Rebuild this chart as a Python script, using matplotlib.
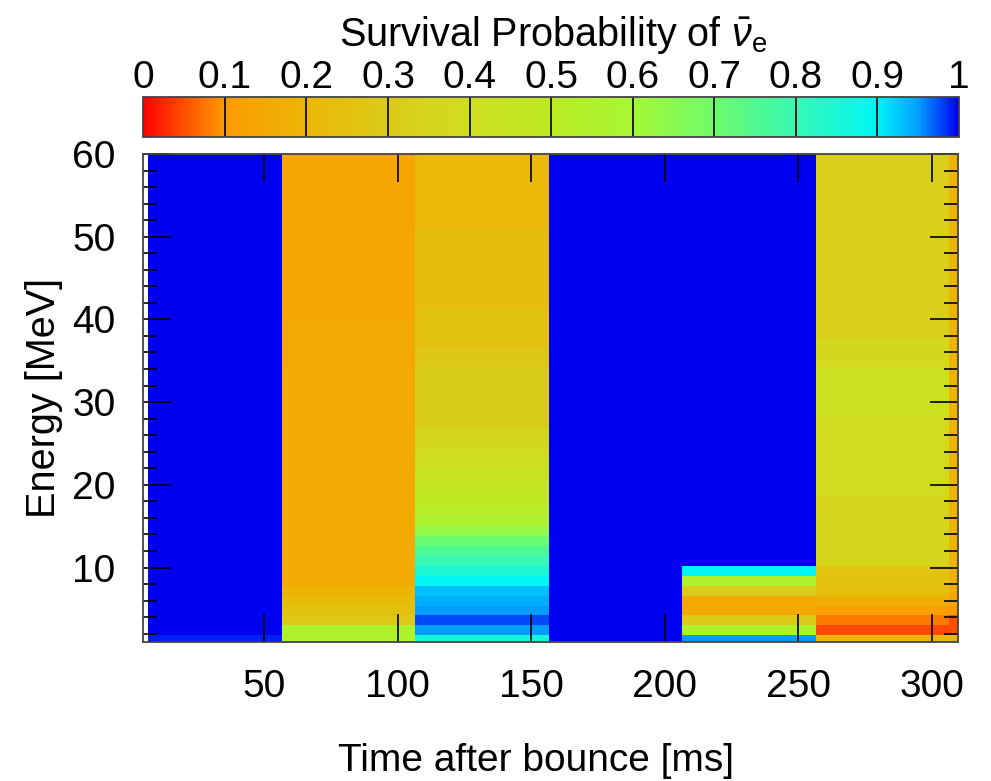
import numpy as np
import matplotlib
matplotlib.use("Agg")
import matplotlib.pyplot as plt
from matplotlib.colors import LinearSegmentedColormap
from matplotlib.ticker import MultipleLocator

# ---------------- data ----------------
# time-bin centres [ms]
time_ms = [31.6, 81.6, 131.6, 181.6, 231.6, 281.6, 331.6]
# energy-bin centres [MeV] (1.2 MeV wide bins)
energy_mev = [round(1.2 * k, 1) for k in range(1, 51)]

# survival probability of anti-nu_e, one list per time bin,
# ordered from the lowest to the highest energy bin (50 values each)
p_t1 = [0.99] + [1.0] * 49
p_t2 = [0.56, 0.56, 0.29, 0.25, 0.22, 0.19] + [0.16] * 22 + [0.15] * 5 + [0.14] * 17
p_t3 = ([0.86, 0.95, 0.975, 0.95, 0.94, 0.93, 0.90, 0.85, 0.80, 0.76, 0.71,
         0.63, 0.56, 0.52, 0.49, 0.47, 0.45, 0.43, 0.41, 0.38, 0.37, 0.35]
        + [0.31] * 6 + [0.28] * 2 + [0.25] * 4 + [0.23] * 8 + [0.21] * 8)
p_t4 = [1.0] * 50
p_t5 = [0.95, 0.56, 0.30, 0.15, 0.15, 0.31, 0.56, 0.90] + [1.0] * 42
p_t6 = ([0.20, 0.045, 0.08, 0.12, 0.17, 0.24, 0.25, 0.26]
        + [0.36] * 5 + [0.34] * 2 + [0.38] * 8 + [0.42] * 5 + [0.37] * 3 + [0.33] * 19)
p_t7 = [0.20, 0.05, 0.05, 0.10, 0.13, 0.16, 0.18, 0.18] + [0.19] * 42

cbar_ticks = [0, 0.1, 0.2, 0.3, 0.4, 0.5, 0.6, 0.7, 0.8, 0.9, 1.0]
cbar_labels = ["0", "0.1", "0.2", "0.3", "0.4", "0.5", "0.6", "0.7", "0.8", "0.9", "1"]
x_ticks = [50, 100, 150, 200, 250, 300]
y_ticks = [10, 20, 30, 40, 50, 60]

# ---------------- style ----------------
plt.rcParams['font.family'] = ['Liberation Sans', 'DejaVu Sans']
plt.rcParams['mathtext.fontset'] = 'custom'
plt.rcParams['mathtext.rm'] = 'Liberation Sans'
plt.rcParams['mathtext.it'] = 'Liberation Sans:italic'

anchors = [
    (0.00, (255, 0, 0)),
    (0.05, (255, 80, 0)),
    (0.10, (252, 155, 0)),
    (0.20, (236, 183, 5)),
    (0.30, (219, 203, 25)),
    (0.40, (207, 222, 30)),
    (0.50, (188, 234, 35)),
    (0.60, (165, 248, 52)),
    (0.70, (110, 250, 105)),
    (0.80, (55, 248, 180)),
    (0.90, (0, 245, 245)),
    (0.95, (0, 160, 255)),
    (1.00, (0, 0, 240)),
]
cmap = LinearSegmentedColormap.from_list(
    "surv", [(v, tuple(c / 255 for c in rgb)) for v, rgb in anchors], N=512)

FS = 28
W, H = 991, 781
fig = plt.figure(figsize=(W / 100, H / 100), dpi=100)

# main axes (pixel geometry)
l, r, t, b = 143.3, 958.3, 154.0, 641.7
ax = fig.add_axes([l / W, 1 - b / H, (r - l) / W, (b - t) / H])
# colour bar axes
cl, cr, ct, cbb = 143.3, 959.0, 96.7, 136.7
cax = fig.add_axes([cl / W, 1 - cbb / H, (cr - cl) / W, (cbb - ct) / H])

Z = np.array([p_t1, p_t2, p_t3, p_t4, p_t5, p_t6, p_t7]).T
mesh = ax.pcolormesh(time_ms, energy_mev, Z, shading='nearest',
                     cmap=cmap, vmin=0, vmax=1, rasterized=True)

ax.set_xlim(4.7, 310)
ax.set_ylim(1.03, 60)
ax.set_xticks(x_ticks)
ax.set_yticks(y_ticks)
ax.yaxis.set_minor_locator(MultipleLocator(2))
ax.tick_params(which='both', direction='in', top=True, right=True,
               labelsize=FS, width=1.2, color='black')
ax.tick_params(which='major', length=20)
ax.tick_params(which='minor', length=10)
ax.tick_params(axis='x', pad=20)
ax.tick_params(axis='y', pad=20)
for s in ax.spines.values():
    s.set_edgecolor('#444444')
    s.set_linewidth(1.3)

ax.set_xlabel('Time after bounce [ms]', fontsize=FS, va='top')
ax.xaxis.set_label_coords((536 - l) / (r - l), -(743 - b) / (b - t))
ax.set_ylabel('Energy [MeV]', fontsize=FS + 0.5)
ax.yaxis.set_label_coords(-(l - 63) / (r - l), 0.5)

cb = fig.colorbar(mesh, cax=cax, orientation='horizontal', ticks=cbar_ticks)
cb.set_ticklabels(cbar_labels)
cax.xaxis.set_ticks_position('top')
cax.tick_params(length=0, pad=0.5, labelsize=FS)
cb.outline.set_edgecolor('#444444')
cb.outline.set_linewidth(1.3)
for tv in cbar_ticks[1:-1]:
    cax.axvline(tv, color='black', lw=1.2)

fig.text(553 / W, 1 - 46 / H, r'Survival Probability of $\bar{\nu}_{\mathrm{e}}$',
         fontsize=FS + 0.5, ha='center', va='baseline')

fig.savefig('out.png', dpi=100)
